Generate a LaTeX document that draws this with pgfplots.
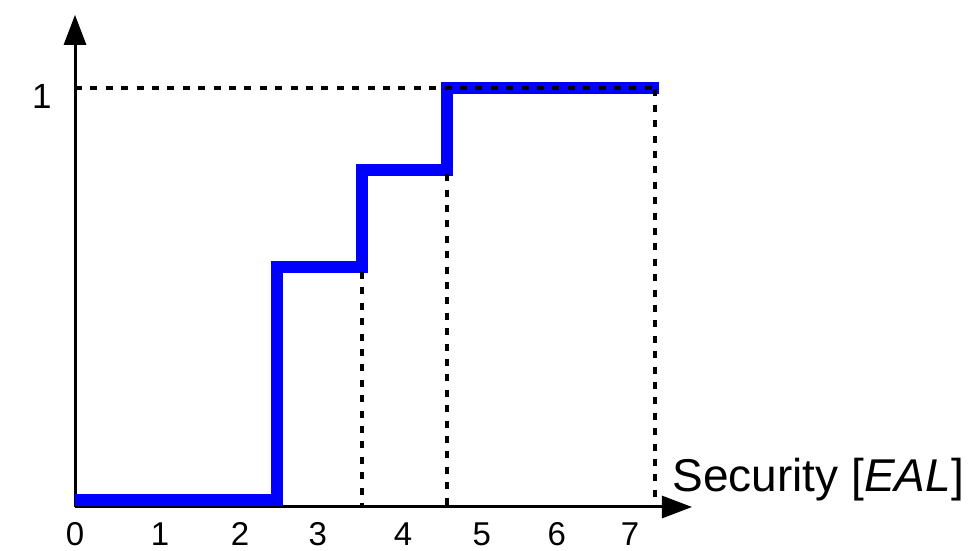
\documentclass[border=0pt]{standalone}
\usepackage{fontspec}
\setmainfont{Liberation Sans}
\usepackage{pgfplots}
\pgfplotsset{compat=1.18}
\usetikzlibrary{arrows.meta}
\begin{document}
\begin{tikzpicture}
\useasboundingbox (-39.5pt,-22pt) rectangle (450pt,253.5pt);
\begin{axis}[
  x=39.825pt, y=209.25pt,
  anchor=south west, at={(-2pt,0pt)},
  xmin=-0.05, xmax=7.696, ymin=0, ymax=1.176,
  enlargelimits=false,
  clip=false,
  axis lines=left,
  axis line style={line width=1.5pt, -{Triangle[length=15pt,width=11pt]}},
  xtick={-0.05,1.017,2.021,2.997,4.068,5.056,5.998,6.918},
  xticklabels={0,1,2,3,4,5,6,7},
  ytick={1},
  major tick length=0pt,
  tick style={draw=none},
  /pgf/number format/assume math mode=true,
  xticklabel style={anchor=base, inner sep=0pt, yshift=-19.5pt, font=\fontsize{16.5}{19}\selectfont},
  yticklabel style={anchor=base east, inner sep=0pt, xshift=-11.5pt, yshift=-10pt, font=\fontsize{17.5}{20}\selectfont},
]
\addplot[blue, line width=6pt, line join=miter, line cap=butt] coordinates {
  (-0.05,0.017) (2.49,0.017) (2.49,0.573) (3.55,0.573) (3.55,0.805) (4.62,0.805) (4.62,1.0) (7.28,1.0)
};
\addplot[black, line width=2pt, dash pattern=on 3.5pt off 4.2pt] coordinates {(-0.05,1.0) (7.23,1.0)};
\addplot[black, line width=2pt, dash pattern=on 3.5pt off 4.2pt] coordinates {(3.55,0.5615) (3.55,0)};
\addplot[black, line width=2pt, dash pattern=on 3.5pt off 4.2pt] coordinates {(4.62,0.795) (4.62,0)};
\addplot[black, line width=2pt, dash pattern=on 3.5pt off 4.2pt] coordinates {(7.23,0.998) (7.23,0)};
\node[anchor=base west, inner sep=0pt, font=\fontsize{23}{27}\selectfont] at (axis cs:7.445,0.036) {Security [\textit{EAL}]};
\end{axis}
\end{tikzpicture}
\end{document}
